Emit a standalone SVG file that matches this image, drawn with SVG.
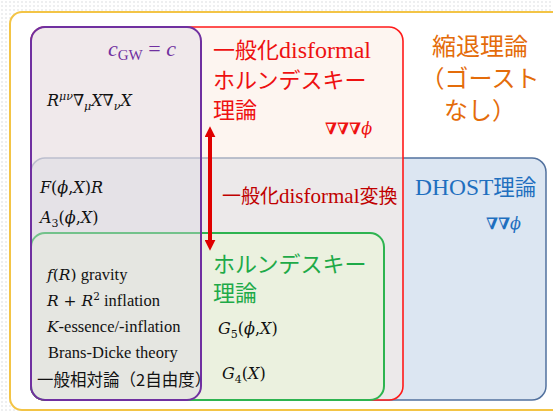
<svg xmlns="http://www.w3.org/2000/svg" width="553" height="413" viewBox="0 0 553 413">
<defs>
<pattern id="dots" width="4" height="4" patternUnits="userSpaceOnUse"><circle cx="2" cy="2" r="0.7" fill="#cfd2d6"/></pattern>
<marker id="ah" viewBox="0 0 10 10" markerUnits="userSpaceOnUse" markerWidth="11" markerHeight="11" refX="2" refY="5" orient="auto-start-reverse"><path d="M0,0 L10,5 L0,10 z" fill="#e00000"/></marker>
</defs>
<style>
.jp{font-family:"Noto Sans CJK JP","Noto Sans CJK SC",sans-serif}
.lt{font-family:"Liberation Serif",serif}
.m{font-family:"DejaVu Serif","Liberation Serif",serif;font-size:16px;fill:#111}
.mm{font-family:"DejaVu Serif","Liberation Serif",serif}
.i{font-style:italic}
.tx{font-family:"Liberation Serif",serif;font-size:16.5px;fill:#111}
</style>
<rect width="553" height="413" fill="#ffffff"/>
<rect width="553" height="413" fill="url(#dots)"/>
<g id="outer">
<rect x="10" y="12" width="560" height="398" rx="12" fill="#ffffff" stroke="#f3c445" stroke-width="2"/>
<text class="jp" font-size="24" fill="#e46c0a" text-anchor="middle"><tspan x="480" y="55">縮退理論</tspan><tspan x="480" y="87">（ゴースト</tspan><tspan x="480" y="119">なし）</tspan></text>
</g>
<g id="dhost">
<rect x="31" y="158" width="515" height="242" rx="14" fill="#dce6f2" stroke="#52719e" stroke-width="1.5"/>
<text x="415" y="195" fill="#1f6fbf"><tspan class="lt" font-size="23.5">DHOST</tspan><tspan class="jp" font-size="21.5">理論</tspan></text>
<text class="m" x="486" y="229" style="fill:#1f6fbf" font-size="14"><tspan font-weight="bold">∇∇</tspan><tspan class="i">ϕ</tspan></text>
</g>
<g id="gen-horndeski">
<rect x="31" y="27" width="372" height="373" rx="14" fill="#fbebe1" fill-opacity="0.5" stroke="#ff1a1a" stroke-width="1.6"/>
<text x="213" y="58" fill="#ee1111"><tspan class="jp" font-size="22">一般化</tspan><tspan class="lt" font-size="24">disformal</tspan></text>
<text class="jp" font-size="22" fill="#ee1111"><tspan x="213" y="88">ホルンデスキー</tspan><tspan x="213" y="118">理論</tspan></text>
<text class="m" x="325" y="134" style="fill:#ee1111" font-size="14"><tspan font-weight="bold">∇∇∇</tspan><tspan class="i">ϕ</tspan></text>
</g>
<g id="horndeski">
<rect x="31" y="233" width="353" height="167" rx="14" fill="#ebf1df" stroke="#2eb450" stroke-width="2"/>
<text class="jp" font-size="22" fill="#1eaa48"><tspan x="213" y="272">ホルンデスキー</tspan><tspan x="213" y="301">理論</tspan></text>
<text class="m" x="218" y="334"><tspan class="i">G</tspan><tspan font-size="11" dy="4">5</tspan><tspan dy="-4">(</tspan><tspan class="i">ϕ</tspan>,<tspan class="i">X</tspan>)</text>
<text class="m" x="222" y="379"><tspan class="i">G</tspan><tspan font-size="11" dy="4">4</tspan><tspan dy="-4">(</tspan><tspan class="i">X</tspan>)</text>
</g>
<g id="cgw">
<rect x="31" y="27" width="170" height="373" rx="14" fill="#ddd8e4" fill-opacity="0.4" stroke="#7030a0" stroke-width="2"/>
<text class="lt" x="108" y="56" fill="#7030a0" font-size="22"><tspan class="i">c</tspan><tspan font-size="15" dy="4">GW</tspan><tspan dy="-4"> = </tspan><tspan class="i">c</tspan></text>
<text class="m" x="47" y="106"><tspan class="i">R</tspan><tspan class="i" font-size="11" dy="-6">μν</tspan><tspan dy="6">∇</tspan><tspan class="i" font-size="11" dy="4">μ</tspan><tspan class="i" dy="-4">X</tspan><tspan>∇</tspan><tspan class="i" font-size="11" dy="4">ν</tspan><tspan class="i" dy="-4">X</tspan></text>
<text class="m" x="40" y="193" font-size="16.5"><tspan class="i">F</tspan>(<tspan class="i">ϕ</tspan>,<tspan class="i">X</tspan>)<tspan class="i">R</tspan></text>
<text class="m" x="40" y="223" font-size="16.5"><tspan class="i">A</tspan><tspan font-size="11" dy="4">3</tspan><tspan dy="-4">(</tspan><tspan class="i">ϕ</tspan>,<tspan class="i">X</tspan>)</text>
<text class="tx" x="47" y="280"><tspan class="mm i" font-size="15.5">f</tspan><tspan class="mm" font-size="15.5">(</tspan><tspan class="mm i" font-size="15.5">R</tspan><tspan class="mm" font-size="15.5">)</tspan> gravity</text>
<text class="tx" x="47" y="306"><tspan class="mm i" font-size="15.5">R</tspan><tspan class="mm" font-size="15.5"> + </tspan><tspan class="mm i" font-size="15.5">R</tspan><tspan class="mm" font-size="10.5" dy="-6">2</tspan><tspan dy="6"> inflation</tspan></text>
<text class="tx" x="47" y="332"><tspan class="mm i" font-size="15.5">K</tspan>-essence/-inflation</text>
<text class="tx" x="48" y="358">Brans-Dicke theory</text>
<text class="jp" x="37" y="386" font-size="16.5" fill="#111">一般相対論（2自由度）</text>
</g>
<g id="connectors">
<line x1="210" y1="135" x2="210" y2="242" stroke="#e00000" stroke-width="4" marker-start="url(#ah)" marker-end="url(#ah)"/>
<text x="222" y="203" fill="#c00000"><tspan class="jp" font-size="19">一般化</tspan><tspan class="lt" font-size="21">disformal</tspan><tspan class="jp" font-size="19">変換</tspan></text>
</g>
</svg>
